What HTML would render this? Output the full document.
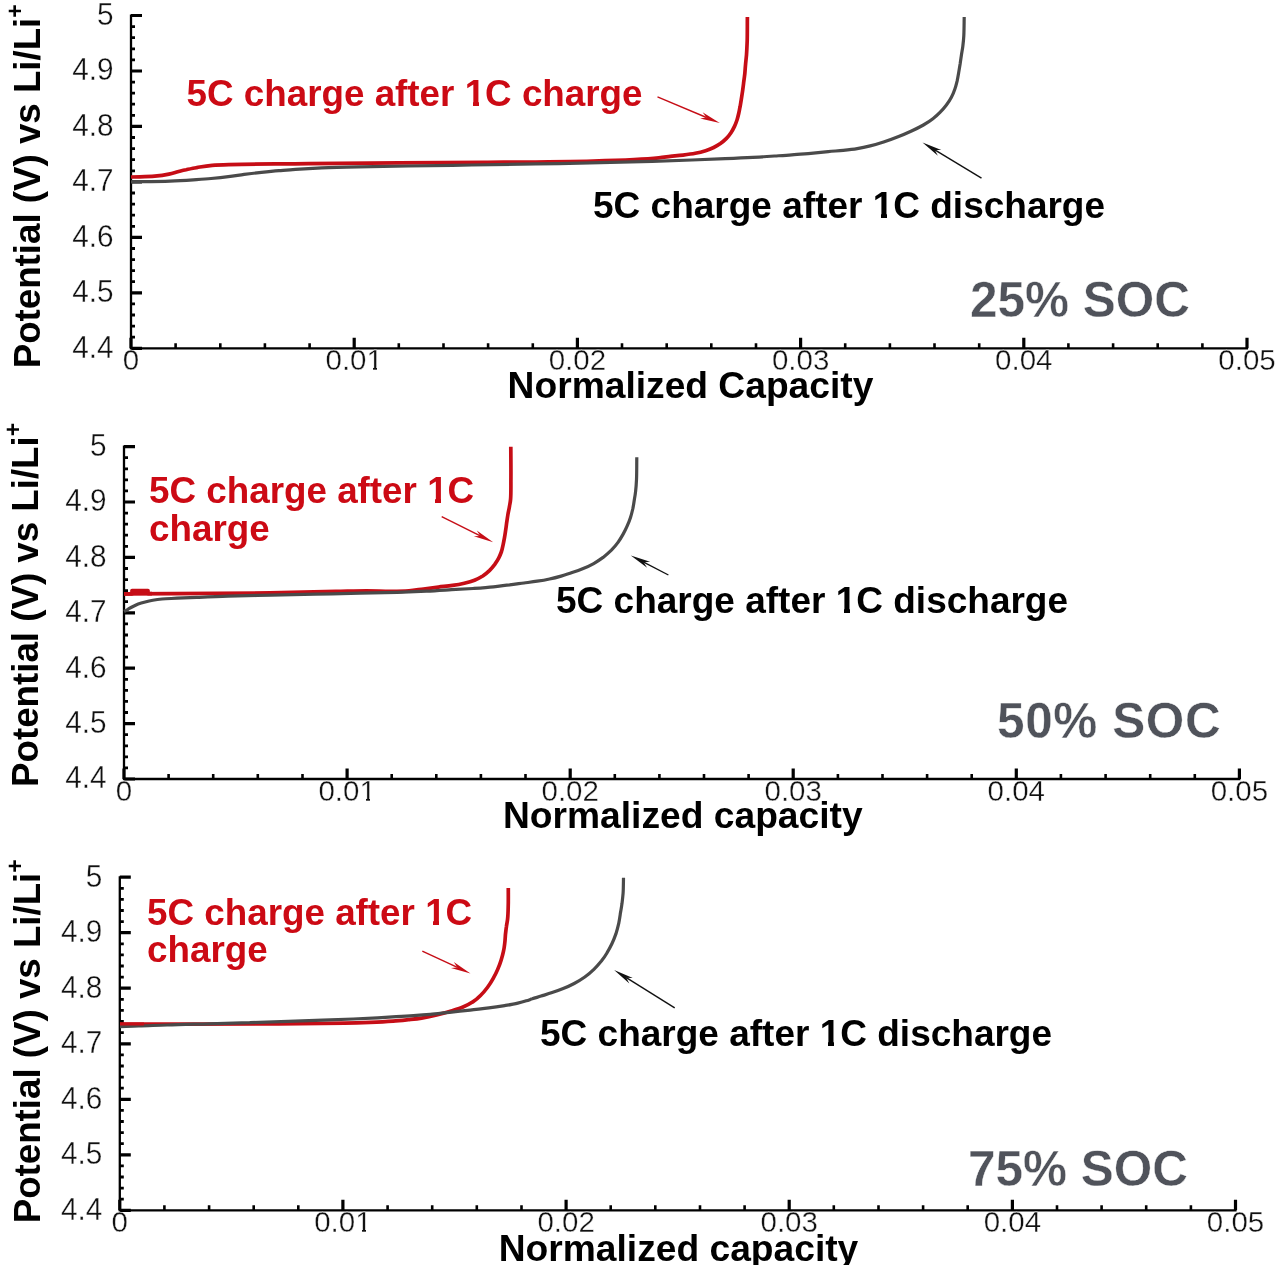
<!DOCTYPE html>
<html><head><meta charset="utf-8"><title>Chart</title>
<style>html,body{margin:0;padding:0;background:#fff;}svg{display:block;filter:blur(0.55px);}text{font-family:"Liberation Sans", sans-serif;}.tl{font-size:32px;fill:#111;stroke:#fff;stroke-width:0.35px;}.xl{font-size:29.5px;fill:#111;stroke:#fff;stroke-width:0.35px;}.ti{font-size:36.7px;font-weight:bold;fill:#000;}.xt{font-size:37.2px;font-weight:bold;fill:#000;}.an{font-size:37px;font-weight:bold;fill:#000;}.ar{font-size:36.8px;font-weight:bold;fill:#cc0a14;}.soc{font-size:49.5px;font-weight:bold;fill:#50535b;stroke:#fff;stroke-width:0.4px;}</style></head><body>
<svg width="1280" height="1265" viewBox="0 0 1280 1265">
<rect width="1280" height="1265" fill="#fff"/>
<path d="M131.0,14.5 V348.3 H1248.0" fill="none" stroke="#000" stroke-width="2.3"/>
<path d="M131.0,337.2h4 M131.0,326.1h4 M131.0,315.0h4 M131.0,303.9h4 M131.0,281.7h4 M131.0,270.6h4 M131.0,259.6h4 M131.0,248.5h4 M131.0,226.3h4 M131.0,215.2h4 M131.0,204.1h4 M131.0,193.0h4 M131.0,170.8h4 M131.0,159.7h4 M131.0,148.6h4 M131.0,137.5h4 M131.0,115.3h4 M131.0,104.2h4 M131.0,93.2h4 M131.0,82.1h4 M131.0,59.9h4 M131.0,48.8h4 M131.0,37.7h4 M131.0,26.6h4" stroke="#000" stroke-width="2.8" fill="none"/>
<path d="M131.0,348.3h11 M131.0,292.8h11 M131.0,237.4h11 M131.0,181.9h11 M131.0,126.4h11 M131.0,71.0h11 M131.0,15.5h11" stroke="#000" stroke-width="3.2" fill="none"/>
<path d="M175.6,348.3v-5 M220.3,348.3v-5 M264.9,348.3v-5 M309.6,348.3v-5 M398.8,348.3v-5 M443.5,348.3v-5 M488.1,348.3v-5 M532.8,348.3v-5 M622.0,348.3v-5 M666.7,348.3v-5 M711.3,348.3v-5 M756.0,348.3v-5 M845.2,348.3v-5 M889.9,348.3v-5 M934.5,348.3v-5 M979.2,348.3v-5 M1068.4,348.3v-5 M1113.1,348.3v-5 M1157.7,348.3v-5 M1202.4,348.3v-5" stroke="#000" stroke-width="2.6" fill="none"/>
<path d="M131.0,348.3v-10.5 M354.2,348.3v-10.5 M577.4,348.3v-10.5 M800.6,348.3v-10.5 M1023.8,348.3v-10.5 M1247.0,348.3v-10.5" stroke="#000" stroke-width="3.2" fill="none"/>
<text transform="translate(113.5,357.6) scale(0.93,1)" text-anchor="end" class="tl">4.4</text>
<text transform="translate(113.5,302.1) scale(0.93,1)" text-anchor="end" class="tl">4.5</text>
<text transform="translate(113.5,246.7) scale(0.93,1)" text-anchor="end" class="tl">4.6</text>
<text transform="translate(113.5,191.2) scale(0.93,1)" text-anchor="end" class="tl">4.7</text>
<text transform="translate(113.5,135.7) scale(0.93,1)" text-anchor="end" class="tl">4.8</text>
<text transform="translate(113.5,80.3) scale(0.93,1)" text-anchor="end" class="tl">4.9</text>
<text transform="translate(113.5,24.8) scale(0.93,1)" text-anchor="end" class="tl">5</text>
<text x="131.0" y="370.0" text-anchor="middle" class="xl">0</text>
<text x="354.2" y="370.0" text-anchor="middle" class="xl">0.01</text>
<text x="577.4" y="370.0" text-anchor="middle" class="xl">0.02</text>
<text x="800.6" y="370.0" text-anchor="middle" class="xl">0.03</text>
<text x="1023.8" y="370.0" text-anchor="middle" class="xl">0.04</text>
<text x="1247.0" y="370.0" text-anchor="middle" class="xl">0.05</text>
<path d="M131.0,177.0 C138.9,176.7 147.8,176.8 154.7,176.2 C160.0,175.7 164.7,175.0 168.9,174.1 C172.2,173.4 174.9,172.5 177.8,171.7 C180.6,171.0 183.2,170.3 186.1,169.7 C189.5,168.9 192.9,168.3 196.8,167.6 C201.5,166.8 204.8,166.0 212.2,165.3 C230.5,163.8 271.8,164.1 308.7,163.6 C358.5,163.0 432.5,162.9 484.0,162.4 C524.6,162.0 565.4,161.7 593.0,161.0 C609.9,160.6 622.1,160.2 634.0,159.6 C643.3,159.1 652.1,158.5 658.8,157.8 C663.3,157.4 666.4,156.8 670.3,156.3 C674.4,155.9 678.8,155.6 683.0,155.1 C687.2,154.6 691.4,154.1 695.3,153.3 C698.9,152.6 702.4,151.7 705.6,150.7 C708.5,149.8 711.2,148.7 713.7,147.5 C716.1,146.3 718.3,145.1 720.4,143.6 C722.4,142.1 724.4,140.4 726.2,138.6 C728.0,136.8 729.6,134.8 731.0,132.7 C732.3,130.7 733.5,128.5 734.5,126.4 C735.5,124.3 736.3,122.1 737.0,120.0 C737.7,117.8 738.2,115.7 738.7,113.5 C739.2,111.3 739.6,109.0 740.1,106.7 C740.5,104.3 740.9,101.9 741.3,99.4 C741.7,96.8 742.1,94.1 742.5,91.5 C742.9,88.7 743.3,86.0 743.6,83.1 C744.0,80.1 744.4,76.9 744.8,73.8 C745.1,70.5 745.3,67.0 745.6,63.8 C745.9,60.7 746.2,58.1 746.5,54.8 C746.8,50.6 747.0,46.0 747.2,40.8 C747.4,33.9 747.3,24.9 747.4,17.0" fill="none" stroke="#c60d16" stroke-width="3.7" stroke-linejoin="round"/>
<path d="M131.0,181.8 C144.0,181.6 158.7,181.5 170.0,181.1 C178.8,180.8 186.1,180.3 193.3,179.8 C199.6,179.4 205.2,179.1 211.1,178.5 C216.8,178.0 222.7,177.4 228.3,176.6 C233.7,176.0 238.8,175.1 244.2,174.4 C249.8,173.7 255.6,173.0 261.4,172.4 C267.2,171.8 273.2,171.2 279.0,170.7 C284.6,170.2 289.4,169.7 295.5,169.3 C303.2,168.8 312.3,168.3 321.8,167.9 C332.9,167.4 345.1,167.1 358.2,166.8 C373.6,166.4 390.6,166.3 408.2,166.0 C428.2,165.7 450.5,165.4 471.8,165.0 C493.0,164.7 514.4,164.3 535.8,163.9 C557.2,163.6 579.9,163.2 600.2,162.7 C618.5,162.3 636.1,161.8 652.2,161.3 C666.3,160.9 679.1,160.4 691.8,160.0 C703.4,159.6 714.6,159.2 725.2,158.7 C734.9,158.3 744.1,157.9 752.8,157.4 C760.4,157.0 767.7,156.5 774.5,156.0 C780.6,155.6 785.9,155.3 791.8,154.8 C797.9,154.4 804.5,153.8 810.8,153.3 C816.7,152.7 822.6,152.1 828.2,151.6 C833.4,151.1 838.3,150.9 843.2,150.4 C848.0,149.9 852.7,149.4 857.2,148.6 C861.7,147.9 865.9,147.0 870.2,145.9 C874.7,144.8 879.1,143.5 883.6,142.0 C888.4,140.5 893.3,138.7 898.0,136.8 C902.6,135.0 907.2,133.0 911.5,131.0 C915.7,129.1 919.7,127.1 923.4,125.0 C926.8,123.0 930.0,121.0 932.9,118.7 C935.6,116.7 938.0,114.5 940.2,112.2 C942.5,109.9 944.5,107.5 946.4,105.0 C948.3,102.5 950.0,99.8 951.4,97.2 C952.8,94.6 953.9,92.0 954.8,89.3 C955.8,86.7 956.4,84.0 957.1,81.2 C957.7,78.4 958.2,75.4 958.7,72.5 C959.2,69.5 959.7,66.5 960.2,63.5 C960.6,60.5 961.1,57.4 961.5,54.5 C961.9,51.8 962.4,49.4 962.8,46.5 C963.2,43.2 963.6,39.8 963.8,35.8 C964.1,30.4 964.1,23.2 964.2,17.0" fill="none" stroke="#4a4a4a" stroke-width="3.2" stroke-linejoin="round"/>
<text x="186.5" y="106.2" class="ar">5C charge after 1C charge</text>
<line x1="657.5" y1="96.9" x2="706.5" y2="117.5" stroke="#c60d16" stroke-width="1.4"/>
<path d="M719.8,123.1 L700.1,118.4 L706.5,117.5 L702.6,112.3 Z" fill="#c60d16"/>
<text x="593" y="217.5" class="an">5C charge after 1C discharge</text>
<line x1="981.5" y1="178.1" x2="934.8" y2="149.9" stroke="#111" stroke-width="1.4"/>
<path d="M922.5,142.5 L941.3,150.0 L934.8,149.9 L937.9,155.7 Z" fill="#111"/>
<text x="970" y="317" class="soc">25% SOC</text>
<text x="690.5" y="397.5" text-anchor="middle" class="xt">Normalized Capacity</text>
<text transform="translate(40.3,368.3) rotate(-90)" class="ti">Potential (V) vs Li/Li<tspan dy="-17" font-size="23">+</tspan></text>
<path d="M124.0,445.6 V779.0 H1240.4" fill="none" stroke="#000" stroke-width="2.3"/>
<path d="M124.0,767.9h4 M124.0,756.8h4 M124.0,745.8h4 M124.0,734.7h4 M124.0,712.5h4 M124.0,701.4h4 M124.0,690.4h4 M124.0,679.3h4 M124.0,657.1h4 M124.0,646.0h4 M124.0,635.0h4 M124.0,623.9h4 M124.0,601.7h4 M124.0,590.6h4 M124.0,579.6h4 M124.0,568.5h4 M124.0,546.3h4 M124.0,535.2h4 M124.0,524.2h4 M124.0,513.1h4 M124.0,490.9h4 M124.0,479.8h4 M124.0,468.8h4 M124.0,457.7h4" stroke="#000" stroke-width="2.8" fill="none"/>
<path d="M124.0,779.0h11 M124.0,723.6h11 M124.0,668.2h11 M124.0,612.8h11 M124.0,557.4h11 M124.0,502.0h11 M124.0,446.6h11" stroke="#000" stroke-width="3.2" fill="none"/>
<path d="M168.6,779.0v-5 M213.2,779.0v-5 M257.8,779.0v-5 M302.5,779.0v-5 M391.7,779.0v-5 M436.3,779.0v-5 M480.9,779.0v-5 M525.5,779.0v-5 M614.8,779.0v-5 M659.4,779.0v-5 M704.0,779.0v-5 M748.6,779.0v-5 M837.9,779.0v-5 M882.5,779.0v-5 M927.1,779.0v-5 M971.7,779.0v-5 M1060.9,779.0v-5 M1105.6,779.0v-5 M1150.2,779.0v-5 M1194.8,779.0v-5" stroke="#000" stroke-width="2.6" fill="none"/>
<path d="M124.0,779.0v-10.5 M347.1,779.0v-10.5 M570.2,779.0v-10.5 M793.2,779.0v-10.5 M1016.3,779.0v-10.5 M1239.4,779.0v-10.5" stroke="#000" stroke-width="3.2" fill="none"/>
<text transform="translate(106.5,788.3) scale(0.93,1)" text-anchor="end" class="tl">4.4</text>
<text transform="translate(106.5,732.9) scale(0.93,1)" text-anchor="end" class="tl">4.5</text>
<text transform="translate(106.5,677.5) scale(0.93,1)" text-anchor="end" class="tl">4.6</text>
<text transform="translate(106.5,622.1) scale(0.93,1)" text-anchor="end" class="tl">4.7</text>
<text transform="translate(106.5,566.7) scale(0.93,1)" text-anchor="end" class="tl">4.8</text>
<text transform="translate(106.5,511.3) scale(0.93,1)" text-anchor="end" class="tl">4.9</text>
<text transform="translate(106.5,455.9) scale(0.93,1)" text-anchor="end" class="tl">5</text>
<text x="124.0" y="800.7" text-anchor="middle" class="xl">0</text>
<text x="347.1" y="800.7" text-anchor="middle" class="xl">0.01</text>
<text x="570.2" y="800.7" text-anchor="middle" class="xl">0.02</text>
<text x="793.2" y="800.7" text-anchor="middle" class="xl">0.03</text>
<text x="1016.3" y="800.7" text-anchor="middle" class="xl">0.04</text>
<text x="1239.4" y="800.7" text-anchor="middle" class="xl">0.05</text>
<path d="M124.0,593.8 C172.8,593.5 231.2,593.5 270.2,592.9 C296.4,592.5 318.0,591.8 335.8,591.4 C347.9,591.2 356.7,590.9 366.5,590.9 C375.4,590.9 384.4,591.4 392.0,591.3 C398.2,591.3 403.6,591.2 409.0,590.8 C414.0,590.4 418.6,589.6 423.5,589.0 C428.4,588.4 433.5,587.7 438.4,587.1 C443.1,586.5 448.0,586.1 452.5,585.4 C456.6,584.8 460.5,584.1 464.3,583.2 C467.8,582.4 471.3,581.5 474.5,580.2 C477.4,579.0 480.2,577.6 482.8,576.0 C485.2,574.4 487.4,572.5 489.4,570.6 C491.3,568.7 493.0,566.7 494.6,564.6 C496.1,562.5 497.5,560.3 498.7,558.1 C499.8,556.0 500.7,553.7 501.5,551.5 C502.2,549.3 502.6,547.0 503.1,544.8 C503.6,542.6 504.0,540.4 504.4,538.2 C504.8,535.9 505.2,533.7 505.5,531.3 C505.9,528.7 506.3,525.9 506.6,523.1 C507.1,520.2 507.5,516.9 508.0,514.0 C508.5,511.3 509.1,508.8 509.5,506.2 C509.9,503.8 510.4,501.9 510.6,499.0 C511.0,494.5 510.9,488.5 510.9,481.7 C511.0,472.1 510.9,458.4 510.8,446.8" fill="none" stroke="#c60d16" stroke-width="3.7" stroke-linejoin="round"/>
<path d="M124,593.8 H132 V590.6 H148 V593.6 H152" fill="none" stroke="#c60d16" stroke-width="3.7" stroke-linejoin="round"/>
<path d="M124.0,611.5 C125.3,610.8 126.6,610.1 128.0,609.3 C129.5,608.4 130.9,607.5 132.5,606.7 C134.3,605.8 136.2,604.9 138.2,604.1 C140.4,603.3 142.9,602.6 145.2,602.0 C147.7,601.3 150.1,600.7 152.8,600.2 C155.7,599.7 158.5,599.3 162.0,599.0 C166.4,598.6 171.7,598.5 177.0,598.2 C183.1,597.9 189.2,597.7 196.5,597.4 C205.7,597.0 216.7,596.5 228.0,596.2 C241.2,595.8 256.6,595.5 271.0,595.1 C285.6,594.8 300.3,594.5 315.0,594.2 C329.9,593.9 345.7,593.6 360.0,593.2 C373.0,593.0 385.5,592.7 397.2,592.4 C407.5,592.0 417.1,591.6 426.5,591.2 C435.2,590.8 443.5,590.2 451.5,589.7 C459.0,589.3 466.2,588.9 473.3,588.5 C480.2,588.0 487.2,587.5 493.5,586.8 C499.2,586.2 504.4,585.4 509.6,584.8 C514.6,584.1 519.3,583.6 524.0,583.0 C528.5,582.4 532.9,581.9 537.2,581.2 C541.4,580.6 545.5,579.9 549.5,579.0 C553.4,578.2 557.3,577.2 561.1,576.1 C564.8,575.0 568.5,573.9 572.1,572.6 C575.8,571.4 579.6,570.1 583.2,568.6 C586.8,567.1 590.3,565.5 593.7,563.6 C597.0,561.7 600.1,559.6 603.1,557.4 C606.0,555.1 608.8,552.6 611.4,550.1 C613.8,547.6 616.1,545.0 618.0,542.3 C619.9,539.7 621.5,537.1 623.0,534.4 C624.5,531.7 625.9,529.0 627.1,526.2 C628.4,523.3 629.6,520.4 630.5,517.5 C631.5,514.5 632.2,511.4 632.9,508.4 C633.5,505.3 634.0,502.2 634.4,499.2 C634.9,496.5 635.3,494.3 635.6,491.4 C636.0,487.9 636.3,484.1 636.5,479.6 C636.8,473.3 636.7,464.6 636.8,457.2" fill="none" stroke="#4a4a4a" stroke-width="3.2" stroke-linejoin="round"/>
<text x="149" y="503.4" class="ar">5C charge after 1C</text>
<text x="149" y="540.5" class="ar">charge</text>
<line x1="441.7" y1="516.6" x2="480.3" y2="535.9" stroke="#c60d16" stroke-width="1.4"/>
<path d="M493.2,542.3 L473.8,536.3 L480.3,535.9 L476.8,530.4 Z" fill="#c60d16"/>
<text x="556" y="613.3" class="an">5C charge after 1C discharge</text>
<line x1="668.4" y1="575.0" x2="643.6" y2="562.2" stroke="#111" stroke-width="1.4"/>
<path d="M630.8,555.6 L650.1,561.8 L643.6,562.2 L647.1,567.7 Z" fill="#111"/>
<text x="997" y="737.8" class="soc" letter-spacing="0.6">50% SOC</text>
<text x="682.8" y="828.2" text-anchor="middle" class="xt">Normalized capacity</text>
<text transform="translate(38.3,786.9) rotate(-90)" class="ti">Potential (V) vs Li/Li<tspan dy="-17" font-size="23">+</tspan></text>
<path d="M119.8,876.2 V1210.3 H1236.5" fill="none" stroke="#000" stroke-width="2.3"/>
<path d="M119.8,1199.2h4 M119.8,1188.1h4 M119.8,1177.0h4 M119.8,1165.9h4 M119.8,1143.7h4 M119.8,1132.6h4 M119.8,1121.5h4 M119.8,1110.4h4 M119.8,1088.2h4 M119.8,1077.1h4 M119.8,1066.0h4 M119.8,1054.9h4 M119.8,1032.6h4 M119.8,1021.5h4 M119.8,1010.4h4 M119.8,999.3h4 M119.8,977.1h4 M119.8,966.0h4 M119.8,954.9h4 M119.8,943.8h4 M119.8,921.6h4 M119.8,910.5h4 M119.8,899.4h4 M119.8,888.3h4" stroke="#000" stroke-width="2.8" fill="none"/>
<path d="M119.8,1210.3h11 M119.8,1154.8h11 M119.8,1099.3h11 M119.8,1043.8h11 M119.8,988.2h11 M119.8,932.7h11 M119.8,877.2h11" stroke="#000" stroke-width="3.2" fill="none"/>
<path d="M164.4,1210.3v-5 M209.1,1210.3v-5 M253.7,1210.3v-5 M298.3,1210.3v-5 M387.6,1210.3v-5 M432.2,1210.3v-5 M476.8,1210.3v-5 M521.5,1210.3v-5 M610.7,1210.3v-5 M655.3,1210.3v-5 M700.0,1210.3v-5 M744.6,1210.3v-5 M833.8,1210.3v-5 M878.5,1210.3v-5 M923.1,1210.3v-5 M967.7,1210.3v-5 M1057.0,1210.3v-5 M1101.6,1210.3v-5 M1146.2,1210.3v-5 M1190.9,1210.3v-5" stroke="#000" stroke-width="2.6" fill="none"/>
<path d="M119.8,1210.3v-10.5 M342.9,1210.3v-10.5 M566.1,1210.3v-10.5 M789.2,1210.3v-10.5 M1012.4,1210.3v-10.5 M1235.5,1210.3v-10.5" stroke="#000" stroke-width="3.2" fill="none"/>
<text transform="translate(102.3,1219.6) scale(0.93,1)" text-anchor="end" class="tl">4.4</text>
<text transform="translate(102.3,1164.1) scale(0.93,1)" text-anchor="end" class="tl">4.5</text>
<text transform="translate(102.3,1108.6) scale(0.93,1)" text-anchor="end" class="tl">4.6</text>
<text transform="translate(102.3,1053.0) scale(0.93,1)" text-anchor="end" class="tl">4.7</text>
<text transform="translate(102.3,997.5) scale(0.93,1)" text-anchor="end" class="tl">4.8</text>
<text transform="translate(102.3,942.0) scale(0.93,1)" text-anchor="end" class="tl">4.9</text>
<text transform="translate(102.3,886.5) scale(0.93,1)" text-anchor="end" class="tl">5</text>
<text x="119.8" y="1232.0" text-anchor="middle" class="xl">0</text>
<text x="342.9" y="1232.0" text-anchor="middle" class="xl">0.01</text>
<text x="566.1" y="1232.0" text-anchor="middle" class="xl">0.02</text>
<text x="789.2" y="1232.0" text-anchor="middle" class="xl">0.03</text>
<text x="1012.4" y="1232.0" text-anchor="middle" class="xl">0.04</text>
<text x="1235.5" y="1232.0" text-anchor="middle" class="xl">0.05</text>
<path d="M120.0,1024.0 C172.8,1024.0 236.8,1024.2 278.2,1024.0 C305.1,1023.8 327.6,1023.6 344.5,1023.2 C355.0,1023.0 361.7,1022.7 370.0,1022.3 C377.9,1022.0 386.1,1021.6 393.0,1021.1 C398.6,1020.7 403.3,1020.2 408.2,1019.7 C412.8,1019.2 417.0,1018.8 421.6,1018.1 C426.4,1017.3 431.7,1016.2 436.6,1015.0 C441.6,1013.8 446.7,1012.4 451.2,1011.0 C455.4,1009.7 459.4,1008.6 463.0,1007.0 C466.4,1005.6 469.6,1004.1 472.5,1002.1 C475.4,1000.2 478.1,998.0 480.5,995.5 C483.0,993.1 485.3,990.3 487.4,987.5 C489.5,984.7 491.4,981.6 493.1,978.6 C494.8,975.6 496.4,972.5 497.7,969.4 C499.0,966.4 500.2,963.3 501.1,960.3 C502.0,957.4 502.8,954.5 503.4,951.7 C504.0,949.0 504.4,946.4 504.7,943.6 C505.1,940.8 505.2,937.9 505.4,935.0 C505.7,932.3 506.0,929.5 506.4,926.8 C506.7,924.1 507.3,921.9 507.6,919.0 C508.0,915.4 508.1,911.5 508.2,907.0 C508.4,901.4 508.3,894.3 508.3,888.0" fill="none" stroke="#c60d16" stroke-width="3.7" stroke-linejoin="round"/>
<path d="M120.0,1026.6 C126.2,1026.4 131.8,1026.3 138.8,1026.0 C147.3,1025.8 156.8,1025.3 167.2,1025.0 C179.8,1024.5 195.2,1024.2 209.0,1023.8 C222.7,1023.4 236.4,1023.0 249.8,1022.6 C262.8,1022.2 275.8,1021.8 288.2,1021.4 C300.1,1021.0 311.6,1020.6 322.8,1020.2 C333.2,1019.8 343.6,1019.4 353.2,1019.0 C361.9,1018.6 370.2,1018.2 377.8,1017.8 C384.4,1017.4 390.2,1017.1 396.2,1016.7 C402.1,1016.4 407.8,1016.1 413.5,1015.7 C419.1,1015.3 424.5,1014.9 430.2,1014.4 C436.4,1013.8 442.9,1013.0 449.5,1012.3 C456.2,1011.6 463.5,1010.8 470.2,1010.1 C476.6,1009.3 482.9,1008.7 488.9,1007.9 C494.4,1007.2 499.7,1006.4 504.7,1005.6 C509.3,1004.8 514.0,1004.0 517.8,1003.1 C521.0,1002.4 523.8,1001.6 526.3,1000.8 C528.5,1000.2 530.1,999.5 532.3,998.8 C534.9,997.9 538.0,997.1 541.1,996.1 C544.6,995.0 548.5,993.9 552.1,992.6 C555.8,991.4 559.5,990.1 563.2,988.6 C566.9,987.1 570.6,985.4 574.2,983.5 C577.8,981.6 581.4,979.4 584.8,977.0 C588.0,974.7 591.1,972.0 593.9,969.3 C596.6,966.7 599.1,963.8 601.4,961.0 C603.5,958.3 605.4,955.6 607.1,952.7 C608.9,949.8 610.4,946.9 611.9,943.8 C613.4,940.7 614.7,937.3 615.9,933.9 C617.0,930.4 618.0,926.7 618.8,923.1 C619.5,919.6 620.0,915.9 620.5,912.6 C621.1,909.5 621.5,906.7 622.0,903.6 C622.4,900.3 622.8,897.0 623.1,893.2 C623.4,888.6 623.4,882.9 623.5,877.7" fill="none" stroke="#4a4a4a" stroke-width="3.2" stroke-linejoin="round"/>
<polyline points="120.0,1024.0 144.0,1024.0" fill="none" stroke="#c60d16" stroke-width="3"/>
<text x="147" y="925.2" class="ar">5C charge after 1C</text>
<text x="147" y="962.2" class="ar">charge</text>
<line x1="422.3" y1="951.1" x2="457.4" y2="967.4" stroke="#c60d16" stroke-width="1.4"/>
<path d="M470.5,973.5 L451.0,968.1 L457.4,967.4 L453.8,962.1 Z" fill="#c60d16"/>
<text x="540" y="1046" class="an">5C charge after 1C discharge</text>
<line x1="674.7" y1="1007.8" x2="626.3" y2="977.7" stroke="#111" stroke-width="1.4"/>
<path d="M614.1,970.1 L632.8,977.9 L626.3,977.7 L629.3,983.5 Z" fill="#111"/>
<text x="968" y="1186" class="soc">75% SOC</text>
<text x="678.5" y="1261" text-anchor="middle" class="xt">Normalized capacity</text>
<text transform="translate(40.3,1223.3) rotate(-90)" class="ti">Potential (V) vs Li/Li<tspan dy="-17" font-size="23">+</tspan></text>
<rect x="367" y="367" width="6" height="4" fill="#fff" shape-rendering="crispEdges"/>
<rect x="377" y="367" width="6" height="4" fill="#fff" shape-rendering="crispEdges"/>
<rect x="466" y="102" width="7" height="5" fill="#fff" shape-rendering="crispEdges"/>
<rect x="479" y="102" width="6" height="5" fill="#fff" shape-rendering="crispEdges"/>
<rect x="874" y="213" width="7" height="6" fill="#fff" shape-rendering="crispEdges"/>
<rect x="887" y="213" width="7" height="6" fill="#fff" shape-rendering="crispEdges"/>
<rect x="360" y="798" width="6" height="4" fill="#fff" shape-rendering="crispEdges"/>
<rect x="370" y="798" width="6" height="4" fill="#fff" shape-rendering="crispEdges"/>
<rect x="428" y="499" width="7" height="5" fill="#fff" shape-rendering="crispEdges"/>
<rect x="441" y="499" width="7" height="5" fill="#fff" shape-rendering="crispEdges"/>
<rect x="837" y="609" width="7" height="5" fill="#fff" shape-rendering="crispEdges"/>
<rect x="850" y="609" width="7" height="5" fill="#fff" shape-rendering="crispEdges"/>
<rect x="356" y="1229" width="6" height="4" fill="#fff" shape-rendering="crispEdges"/>
<rect x="366" y="1229" width="5" height="4" fill="#fff" shape-rendering="crispEdges"/>
<rect x="426" y="921" width="7" height="5" fill="#fff" shape-rendering="crispEdges"/>
<rect x="439" y="921" width="7" height="5" fill="#fff" shape-rendering="crispEdges"/>
<rect x="821" y="1041" width="7" height="6" fill="#fff" shape-rendering="crispEdges"/>
<rect x="834" y="1041" width="7" height="6" fill="#fff" shape-rendering="crispEdges"/>
</svg>
</body></html>
